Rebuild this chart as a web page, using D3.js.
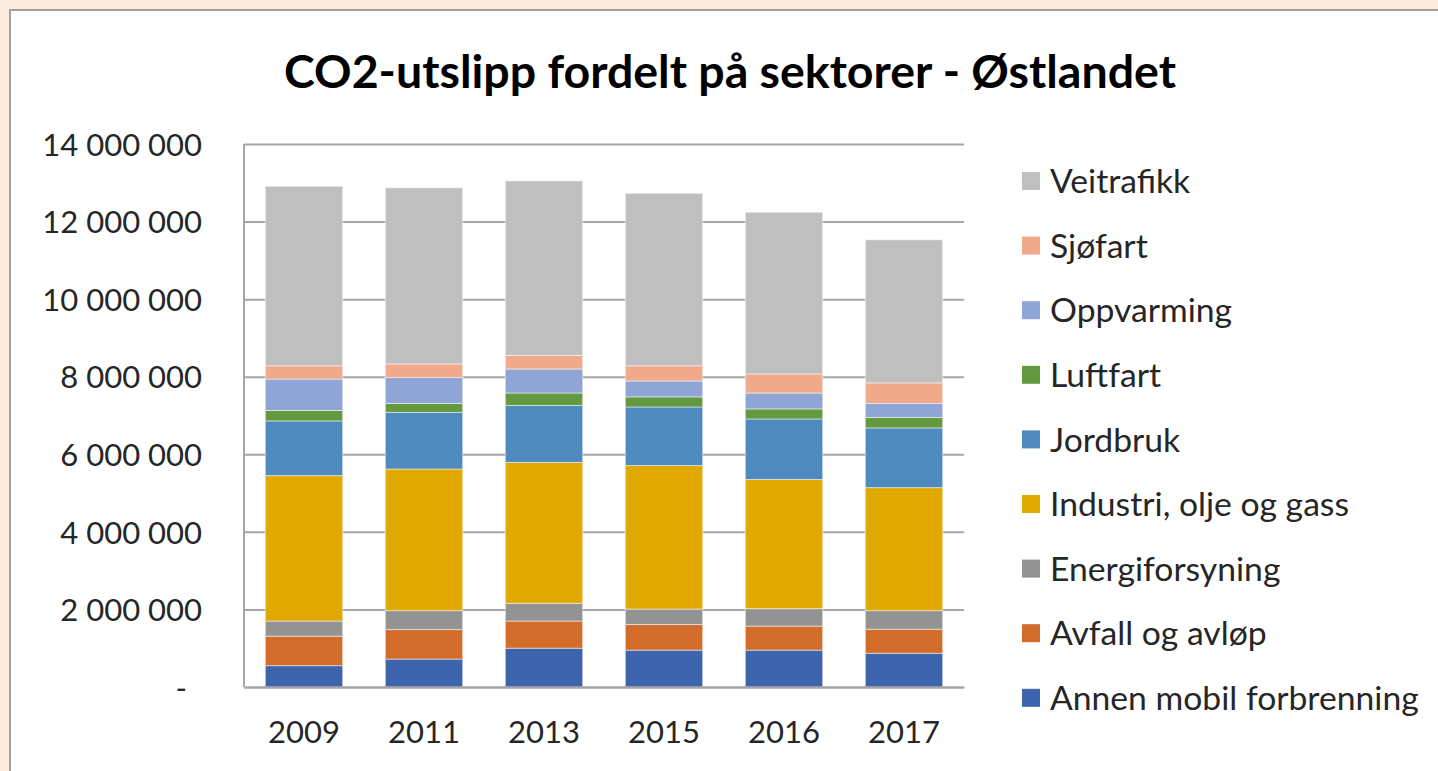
<!DOCTYPE html>
<html>
<head>
<meta charset="utf-8">
<script src="https://cdn.jsdelivr.net/npm/d3@7"></script>
<style>
  body { margin: 0; background: #fbebdd; }
  svg { display: block; }
  svg text { font-family: Lato, "Open Sans", sans-serif; }
</style>
</head>
<body>
<svg width="1438" height="771"></svg>
<script>
const years = ["2009", "2011", "2013", "2015", "2016", "2017"];

// sectors, bottom of the stack first
const sectors = ["Annen mobil forbrenning", "Avfall og avløp", "Energiforsyning",
                 "Industri, olje og gass", "Jordbruk", "Luftfart", "Oppvarming",
                 "Sjøfart", "Veitrafikk"];

const annen      = [550000, 720000, 1000000, 950000, 950000, 870000];
const avfall     = [760000, 760000, 700000, 660000, 620000, 620000];
const energi     = [390000, 490000, 460000, 400000, 450000, 480000];
const industri   = [3750000, 3650000, 3630000, 3700000, 3330000, 3170000];
const jordbruk   = [1410000, 1460000, 1470000, 1510000, 1560000, 1540000];
const luftfart   = [270000, 230000, 320000, 260000, 260000, 270000];
const oppvarming = [810000, 670000, 620000, 410000, 410000, 360000];
const sjofart    = [340000, 350000, 350000, 390000, 490000, 530000];
const veitrafikk = [4630000, 4540000, 4500000, 4450000, 4170000, 3690000];

const yTicks = [0, 2000000, 4000000, 6000000, 8000000, 10000000, 12000000, 14000000];

const colors = ["#3d64ad", "#d26c2b", "#939393", "#e1a800", "#4f8abf",
                "#63993f", "#8fa5d5", "#f1a98b", "#bfbfbf"];

const series = [annen, avfall, energi, industri, jordbruk, luftfart, oppvarming, sjofart, veitrafikk];

const table = years.map((y, i) => {
    const row = { year: y };
    sectors.forEach((s, j) => { row[s] = series[j][i]; });
    return row;
});

const svg = d3.select("svg");

// white chart frame
svg.append("rect")
    .attr("x", 10).attr("y", 10)
    .attr("width", 1440).attr("height", 780)
    .attr("fill", "#fff")
    .attr("stroke", "#a0a0a0")
    .attr("stroke-width", 2);

const plot = { left: 244, right: 964, top: 144, bottom: 687 };

const x = d3.scaleBand()
    .domain(years)
    .range([plot.left, plot.right])
    .paddingInner(0.355)
    .paddingOuter(0.1775);

const y = d3.scaleLinear()
    .domain([0, 14000000])
    .range([plot.bottom, plot.top]);

const fmt = v => v === 0 ? "-" : d3.format(",")(v).replace(/,/g, " ");

// gridlines + y labels
const yAxisG = svg.append("g")
    .attr("transform", "translate(" + plot.left + ",0)")
    .call(d3.axisLeft(y).tickValues(yTicks).tickFormat(fmt)
        .tickSize(-(plot.right - plot.left)).tickPadding(42));

yAxisG.attr("font-family", null).attr("font-size", null);
yAxisG.select(".domain").remove();
yAxisG.selectAll(".tick line").attr("stroke", "#a6a6a6").attr("stroke-width", 2);
yAxisG.selectAll(".tick text")
    .attr("font-size", 31)
    .attr("fill", "#262626")
    .attr("dy", "0.36em");
yAxisG.selectAll(".tick").filter(d => d === 0).select("text").attr("x", -57);

const stack = d3.stack().keys(sectors);
const layers = stack(table);

svg.append("g")
    .selectAll("g")
    .data(layers)
    .enter()
    .append("g")
    .attr("fill", (d, i) => colors[i])
    .selectAll("rect")
    .data(d => d)
    .enter()
    .append("rect")
    .attr("x", d => x(d.data.year))
    .attr("y", d => y(d[1]))
    .attr("width", x.bandwidth())
    .attr("height", d => y(d[0]) - y(d[1]))
    .attr("stroke", "#ffffff")
    .attr("stroke-opacity", 0.5)
    .attr("stroke-width", 1);

// left axis line
svg.append("line")
    .attr("x1", plot.left).attr("x2", plot.left)
    .attr("y1", plot.top).attr("y2", plot.bottom)
    .attr("stroke", "#a6a6a6").attr("stroke-width", 2);

// x labels
const xAxisG = svg.append("g")
    .attr("transform", "translate(0," + plot.bottom + ")")
    .call(d3.axisBottom(x).tickSize(0).tickPadding(0));

xAxisG.attr("font-family", null).attr("font-size", null);
xAxisG.select(".domain").attr("stroke", "#a6a6a6").attr("stroke-width", 2);
xAxisG.selectAll(".tick text")
    .attr("font-size", 31)
    .attr("fill", "#262626")
    .attr("dy", null)
    .attr("y", 56);

// title
svg.append("text")
    .attr("x", 730)
    .attr("y", 88)
    .attr("text-anchor", "middle")
    .attr("font-size", 46.5)
    .attr("font-weight", "bold")
    .attr("fill", "#000")
    .text("CO2-utslipp fordelt på sektorer - Østlandet");

// legend, top of stack first
const legendItems = sectors.slice().reverse();
const legend = svg.append("g")
    .selectAll("g")
    .data(legendItems)
    .enter()
    .append("g")
    .attr("transform", (d, i) => "translate(1022," + (181 + i * 64.6) + ")");

legend.append("rect")
    .attr("x", 0).attr("y", -9)
    .attr("width", 18).attr("height", 18)
    .attr("fill", d => colors[sectors.indexOf(d)]);

legend.append("text")
    .attr("x", 28)
    .attr("dy", "0.36em")
    .attr("font-size", 33.7)
    .attr("fill", "#262626")
    .text(d => d);
</script>
</body>
</html>
